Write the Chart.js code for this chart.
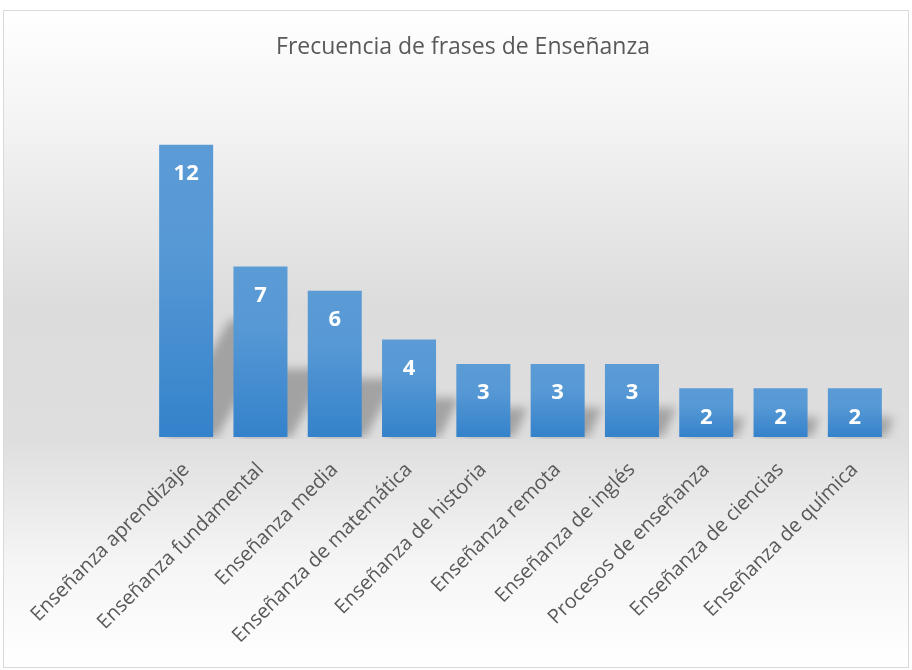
<!DOCTYPE html>
<html>
<head>
<meta charset="utf-8">
<script src="https://cdn.jsdelivr.net/npm/chart.js@4"></script>
<style>
  html, body { margin: 0; padding: 0; background: #fff; }
  #wrap { width: 912px; height: 670px; }
</style>
</head>
<body>
<div id="wrap"><canvas id="chart" width="912" height="670"></canvas></div>
<script>
// Data
const categories = [
    'Enseñanza aprendizaje',
    'Enseñanza fundamental',
    'Enseñanza media',
    'Enseñanza de matemática',
    'Enseñanza de historia',
    'Enseñanza remota',
    'Enseñanza de inglés',
    'Procesos de enseñanza',
    'Enseñanza de ciencias',
    'Enseñanza de química'
];
const frequencies = [12, 7, 6, 4, 3, 3, 3, 2, 2, 2];
const chartTitle = 'Frecuencia de frases de Enseñanza';

const FONT = "'Open Sans', 'Noto Sans', sans-serif";

// Frame + soft grey gradient behind the chart, and the title over the full frame
const backgroundPlugin = {
    id: 'frameBackground',
    beforeDraw(chart) {
        const ctx = chart.ctx;
        ctx.save();
        ctx.fillStyle = '#ffffff';
        ctx.fillRect(0, 0, chart.width, chart.height);
        const grad = ctx.createLinearGradient(0, 10, 0, 668);
        grad.addColorStop(0, '#ffffff');
        grad.addColorStop(0.18, '#f3f3f3');
        grad.addColorStop(0.45, '#dcdcdc');
        grad.addColorStop(0.65, '#dedede');
        grad.addColorStop(0.85, '#f6f6f6');
        grad.addColorStop(1, '#ffffff');
        ctx.fillStyle = grad;
        ctx.fillRect(3.5, 10.5, 905, 657);
        ctx.strokeStyle = '#d9d9d9';
        ctx.lineWidth = 1;
        ctx.strokeRect(3.5, 10.5, 905, 657);

        ctx.fillStyle = '#595959';
        ctx.font = '23px ' + FONT;
        ctx.textAlign = 'center';
        ctx.textBaseline = 'middle';
        ctx.fillText(chartTitle, 463, 47);
        ctx.restore();
    }
};

// Blurred perspective shadow behind each bar
const shadowPlugin = {
    id: 'barShadow',
    beforeDatasetsDraw(chart) {
        const ctx = chart.ctx;
        const meta = chart.getDatasetMeta(0);
        ctx.save();
        ctx.beginPath();
        ctx.rect(chart.chartArea.left, chart.chartArea.top, chart.chartArea.right - chart.chartArea.left + 20, chart.chartArea.bottom - chart.chartArea.top + 2);
        ctx.clip();
        ctx.filter = 'blur(5px)';
        ctx.fillStyle = 'rgba(90, 90, 90, 0.45)';
        meta.data.forEach(bar => {
            const w = bar.width;
            const left = bar.x - w / 2;
            const bottom = bar.base;
            const h = (bottom - bar.y) * 0.4;
            ctx.beginPath();
            ctx.moveTo(left + 4, bottom);
            ctx.lineTo(left + w + 4, bottom);
            ctx.lineTo(left + w + h * 0.6, bottom - h);
            ctx.lineTo(left + h * 0.6, bottom - h);
            ctx.closePath();
            ctx.fill();
        });
        ctx.restore();
    }
};

// Value labels inside the top of each bar
const valueLabelPlugin = {
    id: 'valueLabels',
    afterDatasetsDraw(chart) {
        const ctx = chart.ctx;
        const meta = chart.getDatasetMeta(0);
        ctx.save();
        ctx.fillStyle = '#ffffff';
        ctx.font = 'bold 22px ' + FONT;
        ctx.textAlign = 'center';
        ctx.textBaseline = 'middle';
        meta.data.forEach((bar, i) => {
            ctx.fillText(String(frequencies[i]), bar.x, bar.y + 29);
        });
        ctx.restore();
    }
};

// gradient per bar, from its own top to the baseline
function barFill(context) {
    const chart = context.chart;
    const y = chart.scales && chart.scales.y;
    if (!y || context.raw === undefined) return '#4a8fd2';
    const top = y.getPixelForValue(context.raw);
    const base = y.getPixelForValue(0);
    if (!isFinite(top) || !isFinite(base)) return '#4a8fd2';
    const g = chart.ctx.createLinearGradient(0, top, 0, base);
    g.addColorStop(0, '#5b9bd6');
    g.addColorStop(0.35, '#5799d5');
    g.addColorStop(1, '#3482cb');
    return g;
}

const chart = new Chart(document.getElementById('chart'), {
    type: 'bar',
    data: {
        labels: categories,
        datasets: [{
            label: 'Frecuencia',
            data: frequencies,
            backgroundColor: barFill,
            borderWidth: 0,
            barPercentage: 0.727,
            categoryPercentage: 1.0
        }]
    },
    options: {
        responsive: false,
        animation: false,
        events: [],
        layout: {
            padding: { top: 96, left: 149, right: 20, bottom: 3 }
        },
        plugins: {
            legend: { display: false },
            tooltip: { enabled: false },
            title: { display: false }
        },
        scales: {
            x: {
                grid: { display: false, drawTicks: false },
                border: { display: false },
                ticks: {
                    color: '#595959',
                    font: { family: FONT, size: 20 },
                    minRotation: 45,
                    maxRotation: 45,
                    autoSkip: false,
                    padding: 21
                },
                afterFit(scale) {
                    scale.height = 230;
                }
            },
            y: {
                display: false,
                min: 0,
                max: 14
            }
        }
    },
    plugins: [backgroundPlugin, shadowPlugin, valueLabelPlugin]
});
</script>
</body>
</html>
